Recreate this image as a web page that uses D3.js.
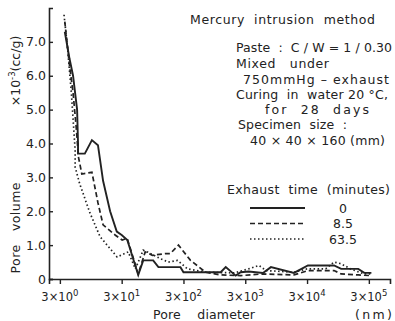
<!DOCTYPE html>
<html>
<head>
<meta charset="utf-8">
<script src="https://cdn.jsdelivr.net/npm/d3@7"></script>
<style>
  body { margin: 0; background: #fff; }
  svg { font-family: "DejaVu Sans", sans-serif; fill: #222; }
  text { white-space: pre; }
</style>
</head>
<body>
<script>
// pore diameter (nm) / pore volume (x10^-3 cc/g)
const diam0 = [3.6, 4.3, 4.9, 5.7, 5.9, 5.9, 7.6, 9.9, 12.4, 15, 19.5, 25, 30, 37, 55.6, 67, 97, 118, 268, 300, 1200, 1450, 2100, 2530, 3400, 5800, 7800, 18400, 31000, 82000, 107000, 202000, 253000, 330000];
const vol0  = [7.3, 6.5, 6.0, 5.0, 4.0, 3.7, 3.7, 4.1, 3.95, 2.9, 2.0, 1.4, 1.3, 1.15, 0.12, 0.55, 0.55, 0.35, 0.35, 0.2, 0.2, 0.35, 0.1, 0.2, 0.22, 0.18, 0.35, 0.18, 0.4, 0.4, 0.3, 0.3, 0.18, 0.18];

const diam85 = [3.6, 4.3, 4.9, 5.5, 6.0, 6.8, 9.9, 12.4, 15, 23.5, 30.6, 36.8, 55.6, 72, 94, 153, 184, 249, 390, 684, 1200, 2530, 5800, 18400, 31000, 82000, 107000, 202000, 330000];
const vol85  = [7.6, 6.3, 5.5, 4.5, 3.6, 3.1, 3.15, 2.25, 1.6, 1.3, 1.15, 1.2, 0.15, 0.8, 0.7, 0.75, 0.75, 1.0, 0.55, 0.2, 0.12, 0.1, 0.15, 0.12, 0.25, 0.25, 0.15, 0.12, 0.1];

const diam635 = [3.5, 4.0, 4.6, 5.0, 5.3, 5.3, 6.3, 9.2, 13.4, 25.3, 38.3, 50, 67, 78, 127, 171, 240, 348, 700, 2000, 3400, 5000, 6500, 18400, 30000, 60000, 82000, 107000, 150000, 250000, 330000];
const vol635  = [7.8, 6.8, 5.5, 4.5, 3.8, 3.3, 2.8, 1.95, 1.25, 0.65, 0.8, 0.3, 0.85, 0.8, 0.6, 0.5, 0.55, 0.3, 0.2, 0.18, 0.3, 0.4, 0.25, 0.2, 0.3, 0.3, 0.5, 0.45, 0.3, 0.15, 0.15];

const yTicks = [0, 1, 2, 3, 4, 5, 6, 7];
const xTicks = [3, 30, 300, 3000, 30000, 300000];
const xExp = ["0", "1", "2", "3", "4", "5"];

const legendTitle = "Exhaust  time  (minutes)";
const legendNames = ["0", "8.5", "63.5"];
const notes = [
  "Mercury  intrusion  method",
  "Paste  :  C / W = 1 / 0.30",
  "Mixed   under",
  "750mmHg – exhaust",
  "Curing  in  water 20 °C,",
  "for  28  days",
  "Specimen  size  :",
  "40 × 40 × 160 (mm)"
];
// layout of the notes: [x, baseline y, width]
const noteBox = [[190, 24, 185], [236, 52, 156], [236, 68, 93], [243, 84, 146],
                 [236, 99, 152], [265, 114, 104], [238, 129, 109], [250, 145, 135]];

const width = 395, height = 321;
const svg = d3.select("body").append("svg").attr("width", width).attr("height", height);

const x = d3.scaleLog().domain([2, 6.6e5]).range([49, 390]);
const y = d3.scaleLinear().domain([0, 8]).range([279, 8]);

// axes
const ax = svg.append("g").attr("transform", `translate(0,${y(0)})`)
  .call(d3.axisBottom(x).tickValues(xTicks).tickSize(5).tickFormat(""));
ax.select(".domain").attr("stroke", "#222").attr("stroke-width", 1.6);
ax.selectAll(".tick line").attr("stroke", "#222").attr("stroke-width", 1.4);

const ay = svg.append("g").attr("transform", `translate(${x.range()[0]},0)`)
  .call(d3.axisRight(y).tickValues(yTicks).tickSize(4).tickFormat(""));
ay.select(".domain").attr("stroke", "#222").attr("stroke-width", 1.6);
ay.selectAll(".tick line").attr("stroke", "#222").attr("stroke-width", 1.4);

svg.append("g").selectAll("text").data(yTicks).join("text")
  .attr("x", 46).attr("y", d => y(d)).attr("dy", "0.36em")
  .attr("text-anchor", "end").attr("font-size", 12.5)
  .text(d => d === 0 ? "0" : d.toFixed(1));

const xl = svg.append("g").selectAll("text").data(xTicks).join("text")
  .attr("x", d => x(d)).attr("y", 301)
  .attr("text-anchor", "middle").attr("font-size", 11.5);
xl.append("tspan").text("3×10");
xl.append("tspan").attr("dy", -5).attr("font-size", 8.5).text((d, i) => xExp[i]);

// axis titles
svg.append("text").attr("transform", "translate(20,228) rotate(-90)")
  .attr("text-anchor", "middle").attr("font-size", 12.5)
  .attr("textLength", 91).attr("lengthAdjust", "spacing").text("Pore   volume");
const yt = svg.append("text").attr("transform", "translate(20,71) rotate(-90)")
  .attr("text-anchor", "middle").attr("font-size", 12.5);
yt.append("tspan").text("×10");
yt.append("tspan").attr("dy", -5).attr("font-size", 8.5).text("-3");
yt.append("tspan").attr("dy", 5).text("(cc/g)");

svg.append("text").attr("x", 153).attr("y", 319).attr("font-size", 12.5)
  .attr("textLength", 102).attr("lengthAdjust", "spacing").text("Pore    diameter");
svg.append("text").attr("x", 355).attr("y", 319).attr("font-size", 12.5)
  .attr("textLength", 37).attr("lengthAdjust", "spacing").text("(nm)");

// curves
const line = d3.line().x(d => x(d[0])).y(d => y(d[1]));
const series = [
  { d: d3.zip(diam0, vol0), dash: null, w: 1.9 },
  { d: d3.zip(diam85, vol85), dash: "5,3", w: 1.7 },
  { d: d3.zip(diam635, vol635), dash: "1.5,2.5", w: 1.7 }
];
svg.append("g").selectAll("path").data(series).join("path")
  .attr("d", s => line(s.d)).attr("fill", "none").attr("stroke", "#222")
  .attr("stroke-width", s => s.w).attr("stroke-dasharray", s => s.dash);

// notes
svg.append("g").selectAll("text").data(notes).join("text")
  .attr("x", (d, i) => noteBox[i][0]).attr("y", (d, i) => noteBox[i][1])
  .attr("textLength", (d, i) => noteBox[i][2]).attr("lengthAdjust", "spacing")
  .attr("font-size", 12.5).text(d => d);

// legend
svg.append("text").attr("x", 227).attr("y", 194).attr("font-size", 12.5)
  .attr("textLength", 163).attr("lengthAdjust", "spacing").text(legendTitle);
const lg = svg.append("g").selectAll("g").data(series).join("g")
  .attr("transform", (d, i) => `translate(0,${208 + i * 15.5})`);
lg.append("line").attr("x1", 250).attr("x2", 305).attr("stroke", "#222")
  .attr("stroke-width", d => d.w).attr("stroke-dasharray", d => d.dash);
lg.append("text").attr("x", 343).attr("dy", "0.36em").attr("text-anchor", "middle")
  .attr("font-size", 12.5).text((d, i) => legendNames[i]);
</script>
</body>
</html>
